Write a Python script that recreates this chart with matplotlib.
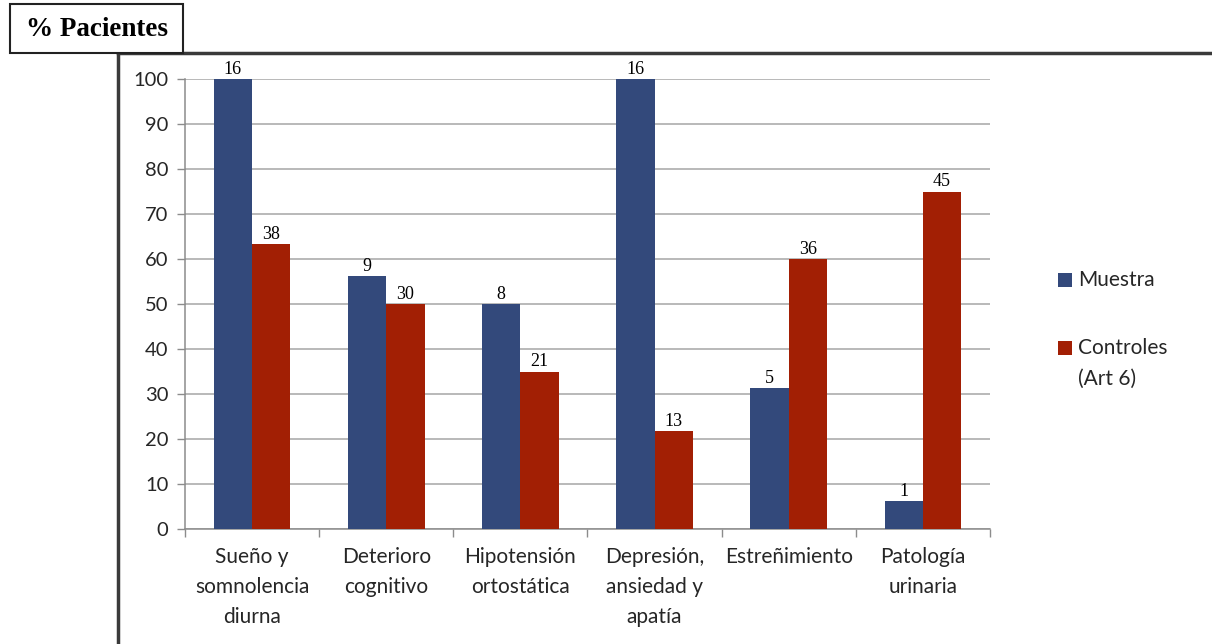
import matplotlib
matplotlib.use("Agg")
import matplotlib.pyplot as plt
import numpy as np
from matplotlib.patches import Rectangle
from matplotlib.lines import Line2D

categories = ["Sueño y\nsomnolencia\ndiurna", "Deterioro\ncognitivo", "Hipotensión\nortostática",
              "Depresión,\nansiedad y\napatía", "Estreñimiento", "Patología\nurinaria"]
muestra_pct = [100, 56.25, 50, 100, 31.25, 6.25]
controles_pct = [63.3, 50, 35, 21.7, 60, 75]
muestra_n = [16, 9, 8, 16, 5, 1]
controles_n = [38, 30, 21, 13, 36, 45]
yticks = [0, 10, 20, 30, 40, 50, 60, 70, 80, 90, 100]

BLUE = "#33497B"
RED = "#A21F04"
TEXT = "#262626"
SANS = "Lato"
SERIF = "Liberation Serif"

W, H = 1212, 644
fig = plt.figure(figsize=(W / 100, H / 100), dpi=100)

ax = fig.add_axes([185 / W, 1 - 529 / H, (990 - 185) / W, (529 - 79) / H])

x = np.arange(len(categories))
bw = 1 / 3.5
ax.bar(x - bw / 2, muestra_pct, bw, color=BLUE, zorder=3)
ax.bar(x + bw / 2, controles_pct, bw, color=RED, zorder=3)

for xi, v, n in zip(x - bw / 2, muestra_pct, muestra_n):
    ax.text(xi, v + 0.3, str(n), ha="center", va="bottom", fontsize=13, family=SERIF)
for xi, v, n in zip(x + bw / 2, controles_pct, controles_n):
    ax.text(xi, v + 0.3, str(n), ha="center", va="bottom", fontsize=13, family=SERIF)

ax.set_xlim(-0.5, len(categories) - 0.5)
ax.set_ylim(0, 100)
ax.set_yticks(yticks)
ax.set_yticklabels([str(t) for t in yticks], fontsize=14.5, family=SANS, color=TEXT)
ax.set_xticks(x)
ax.set_xticklabels(categories, fontsize=15, family=SANS, color=TEXT, linespacing=1.62)
ax.set_xticks(np.arange(-0.5, len(categories)), minor=True)
ax.tick_params(axis="x", which="major", length=0, pad=13)
ax.tick_params(axis="x", which="minor", length=6, color="#8C8C8C", width=1)
ax.tick_params(axis="y", length=6, color="#8C8C8C", width=1, pad=6)
ax.yaxis.grid(True, color="#A6A6A6", linewidth=1.1, zorder=0)
for side in ("top", "right"):
    ax.spines[side].set_visible(False)
for side in ("left", "bottom"):
    ax.spines[side].set_color("#8C8C8C")
    ax.spines[side].set_linewidth(1.1)

# legend
def fy(py):
    return 1 - py / H

fig.patches.append(Rectangle((1058 / W, fy(287)), 14 / W, 14 / H, transform=fig.transFigure,
                             facecolor=BLUE, edgecolor="none"))
fig.text(1078 / W, fy(280), "Muestra", fontsize=15, family=SANS, va="center", color=TEXT)
fig.patches.append(Rectangle((1058 / W, fy(355)), 14 / W, 14 / H, transform=fig.transFigure,
                             facecolor=RED, edgecolor="none"))
fig.text(1078 / W, fy(348), "Controles", fontsize=15, family=SANS, va="center", color=TEXT)
fig.text(1078 / W, fy(379), "(Art 6)", fontsize=15, family=SANS, va="center", color=TEXT)

# outer frame
fig.add_artist(Line2D([118 / W, 1.0], [fy(53), fy(53)], color="#3A3A3A", linewidth=2.5,
                      transform=fig.transFigure))
fig.add_artist(Line2D([118 / W, 118 / W], [fy(53), 0], color="#3A3A3A", linewidth=2.5,
                      transform=fig.transFigure))
fig.patches.append(Rectangle((10 / W, fy(53)), 173 / W, 49 / H, transform=fig.transFigure,
                             facecolor="white", edgecolor="#222222", linewidth=1.5, zorder=5))
fig.text(97 / W, fy(30), "% Pacientes", fontsize=19.5, family=SERIF, weight="bold",
         ha="center", va="center", zorder=6)

fig.savefig("out.png", dpi=100)
